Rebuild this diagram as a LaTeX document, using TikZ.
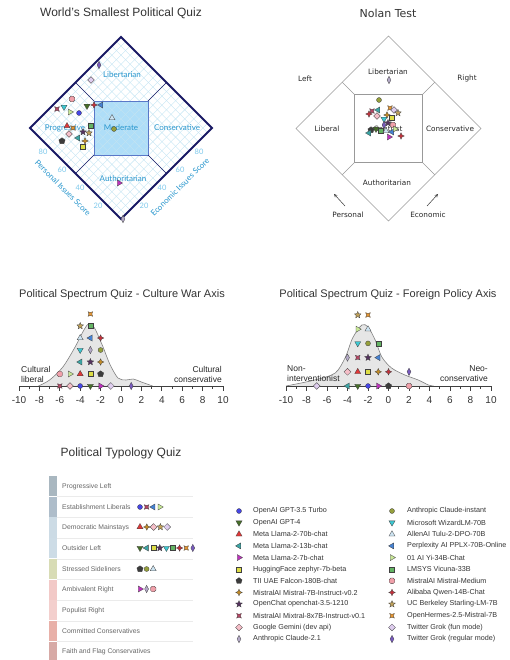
\documentclass[tikz,border=0pt]{standalone}
\usepackage{fontspec}
\setmainfont{Liberation Sans}
\newfontfamily\nolanfont{DejaVu Sans}
\newfontfamily\wsfont{Lato}
\usepackage{xcolor}
\usetikzlibrary{shapes.geometric}
\usetikzlibrary{arrows}
\usetikzlibrary{calc}
% model colours
\definecolor{cGptTurbo}{RGB}{70,70,230}
\definecolor{cGptFour}{RGB}{70,110,40}
\definecolor{cLlamaSeventy}{RGB}{225,55,55}
\definecolor{cLlamaThirteen}{RGB}{60,165,165}
\definecolor{cLlamaSeven}{RGB}{190,50,190}
\definecolor{cZephyr}{RGB}{222,222,70}
\definecolor{cFalcon}{RGB}{60,60,60}
\definecolor{cMistralSeven}{RGB}{195,140,40}
\definecolor{cOpenChat}{RGB}{85,50,95}
\definecolor{cMixtral}{RGB}{180,70,100}
\definecolor{cGemini}{RGB}{245,190,200}
\definecolor{cClaudeTwo}{RGB}{180,170,200}
\definecolor{cClaudeInstant}{RGB}{150,160,60}
\definecolor{cWizard}{RGB}{60,200,210}
\definecolor{cTulu}{RGB}{205,228,242}
\definecolor{cPplx}{RGB}{70,130,210}
\definecolor{cYi}{RGB}{200,232,150}
\definecolor{cVicuna}{RGB}{100,180,100}
\definecolor{cMistralMed}{RGB}{240,160,170}
\definecolor{cQwen}{RGB}{195,50,60}
\definecolor{cStarling}{RGB}{190,160,90}
\definecolor{cHermes}{RGB}{230,150,50}
\definecolor{cGrokFun}{RGB}{222,205,238}
\definecolor{cGrokReg}{RGB}{120,90,190}
% chart colours
\definecolor{cNavy}{RGB}{25,25,100}
\definecolor{cWsText}{RGB}{40,150,205}
\definecolor{cWsNum}{RGB}{125,200,235}
\definecolor{cWsGrid}{RGB}{195,228,242}
\definecolor{cModFill}{RGB}{175,222,248}
\definecolor{cModLine}{RGB}{90,120,200}
\definecolor{cDens}{RGB}{230,230,230}
\definecolor{cTyA}{RGB}{169,183,192}
\definecolor{cTyB}{RGB}{174,189,202}
\definecolor{cTyC}{RGB}{204,219,229}
\definecolor{cTyD}{RGB}{205,220,230}
\definecolor{cTyE}{RGB}{216,220,181}
\definecolor{cTyF}{RGB}{242,201,199}
\definecolor{cTyG}{RGB}{243,207,205}
\definecolor{cTyH}{RGB}{232,176,168}
\definecolor{cTyI}{RGB}{215,170,166}

\tikzset{
  mk/.style={draw=black!75, line width=.3pt, inner sep=0pt, minimum size=5.5pt},
  mcirc/.style={mk, circle, minimum size=5pt},
  mtri/.style={mk, regular polygon, regular polygon sides=3, minimum size=7pt},
  msq/.style={mk, rectangle, minimum size=5pt},
  mpent/.style={mk, regular polygon, regular polygon sides=5, minimum size=6.5pt},
  moct/.style={mk, regular polygon, regular polygon sides=8, minimum size=6pt},
  mstar/.style={mk, star, star points=5, star point ratio=2.2, minimum size=7pt},
  mplus/.style={mk, star, star points=4, star point ratio=2.2, minimum size=6.5pt},
  mcross/.style={mplus, shape border rotate=45},
  mdiam/.style={mk, diamond, minimum width=7pt, minimum height=7pt},
  mthin/.style={mk, diamond, minimum width=4pt, minimum height=7.5pt},
  mGptTurbo/.style={mcirc, fill=cGptTurbo},
  mGptFour/.style={mtri, shape border rotate=180, fill=cGptFour},
  mLlamaSeventy/.style={mtri, fill=cLlamaSeventy},
  mLlamaThirteen/.style={mtri, shape border rotate=90, fill=cLlamaThirteen},
  mLlamaSeven/.style={mtri, shape border rotate=-90, fill=cLlamaSeven},
  mZephyr/.style={msq, fill=cZephyr},
  mFalcon/.style={mpent, fill=cFalcon},
  mMistralSeven/.style={mplus, fill=cMistralSeven},
  mOpenChat/.style={mstar, fill=cOpenChat},
  mMixtral/.style={mcross, fill=cMixtral},
  mGemini/.style={mdiam, fill=cGemini},
  mClaudeTwo/.style={mthin, fill=cClaudeTwo},
  mClaudeInstant/.style={mcirc, fill=cClaudeInstant},
  mWizard/.style={mtri, shape border rotate=180, fill=cWizard},
  mTulu/.style={mtri, fill=cTulu},
  mPplx/.style={mtri, shape border rotate=90, fill=cPplx},
  mYi/.style={mtri, shape border rotate=-90, fill=cYi},
  mVicuna/.style={msq, fill=cVicuna},
  mMistralMed/.style={moct, fill=cMistralMed},
  mQwen/.style={mplus, fill=cQwen},
  mStarling/.style={mstar, fill=cStarling},
  mHermes/.style={mcross, fill=cHermes},
  mGrokFun/.style={mdiam, fill=cGrokFun},
  mGrokReg/.style={mthin, fill=cGrokReg},
  ttl/.style={font=\fontsize{12}{14}\selectfont, text=black!80},
  wslab/.style={font=\wsfont\fontsize{8}{9}\selectfont, text=cWsText, inner sep=1pt},
  wsnum/.style={font=\wsfont\fontsize{7.5}{8}\selectfont, text=cWsNum, inner sep=0pt},
  wsgrid/.style={cWsGrid, line width=.4pt},
  nlab/.style={font=\nolanfont\fontsize{7.3}{8}\selectfont, text=black!85, inner sep=1pt},
  nline/.style={black!40, line width=.5pt},
  dens/.style={fill=cDens, draw=black!50, line width=.6pt},
  axline/.style={black!75, line width=.7pt},
  ticklab/.style={font=\fontsize{10}{12}\selectfont, text=black!80, inner sep=0pt},
  sidelab/.style={font=\fontsize{8.5}{10}\selectfont, text=black!85, inner sep=0pt},
  tylab/.style={anchor=west, font=\fontsize{6.8}{8}\selectfont, text=black!60, inner sep=0pt},
  legtxt/.style={anchor=west, font=\fontsize{7.2}{8}\selectfont, text=black!80, inner sep=0pt},
}

\begin{document}
\begin{tikzpicture}[x=1pt, y=-1pt]
\useasboundingbox (0,0) rectangle (509,660);

% ---------------- World's Smallest Political Quiz
\node[ttl] (wsTitle) at (121,13) {World's Smallest Political Quiz};
\coordinate (wT) at (121,37);
\coordinate (wL) at (30,128);
\coordinate (wR) at (212,128);
\coordinate (wB) at (121,219);
\fill[cModFill] (94,101) rectangle (148,155);
\begin{scope}
  \clip (wT) -- (wR) -- (wB) -- (wL) -- cycle;
  \foreach \i in {1,...,19} {
    \draw[wsgrid] ($(wB)!\i/20!(wL)$) -- ($(wR)!\i/20!(wT)$);
    \draw[wsgrid] ($(wB)!\i/20!(wR)$) -- ($(wL)!\i/20!(wT)$);
  }
\end{scope}
\draw[cModLine, line width=.9pt] (94,101) rectangle (148,155);
\draw[cNavy, line width=.5pt] (94,101) -- ($(wL)!.5!(wT)$);
\draw[cNavy, line width=.5pt] (148,101) -- ($(wT)!.5!(wR)$);
\draw[cNavy, line width=.5pt] (94,155) -- ($(wL)!.5!(wB)$);
\draw[cNavy, line width=.5pt] (148,155) -- ($(wB)!.5!(wR)$);
\draw[cNavy, line width=1.8pt, line join=miter] (wT) -- (wR) -- (wB) -- (wL) -- cycle;
\node[wslab] (wsLib) at (122,75) {Libertarian};
\node[wslab] (wsProg) at (65,128) {Progressive};
\node[wslab] (wsMod) at (121,128) {Moderate};
\node[wslab] (wsCons) at (177,128) {Conservative};
\node[wslab] (wsAuth) at (123,179) {Authoritarian};
\foreach \n/\a/\b [count=\i] in {80/43/152, 60/62/170, 40/80/188, 20/98/206}
  \node[wsnum] (wsp\i) at (\a,\b) {\n};
\foreach \n/\a/\b [count=\i] in {80/199/152, 60/180/170, 40/162/188, 20/144/206}
  \node[wsnum] (wse\i) at (\a,\b) {\n};
\node[wslab, rotate=-45] (wsPers) at (63,188) {Personal Issues Score};
\node[wslab, rotate=45] (wsEcon) at (180,187) {Economic Issues Score};
\foreach \st/\px/\py [count=\i] in {mGrokReg/99/65, mGrokFun/91/80, mMistralMed/72/99,
    mMixtral/57/109, mWizard/64/107, mYi/70/112, mGptTurbo/79/113, mGptFour/87/106,
    mQwen/94/105, mPplx/101/105, mTulu/112/118, mClaudeInstant/114/129,
    mLlamaSeventy/67/126, mHermes/73/128, mVicuna/91/126, mGemini/69/134,
    mOpenChat/83/132, mStarling/89/133, mLlamaThirteen/78/138, mFalcon/62/141,
    mMistralSeven/85/141, mZephyr/83/147, mLlamaSeven/119/183, mClaudeTwo/123/219}
  \node[\st] (ws\i) at (\px,\py) {};

% ---------------- Nolan Test
\node[ttl, font=\nolanfont\fontsize{11}{13}\selectfont] (nTitle) at (388,13) {Nolan Test};
\coordinate (nT) at (388.5,36);
\coordinate (nL) at (296,128.5);
\coordinate (nR) at (481,128.5);
\coordinate (nB) at (388.5,221);
\draw[nline] (nT) -- (nR) -- (nB) -- (nL) -- cycle;
\draw[nline] (354.5,94.5) rectangle (422.5,162.5);
\draw[nline] (354.5,94.5) -- ($(nL)!.5!(nT)$);
\draw[nline] (422.5,94.5) -- ($(nT)!.5!(nR)$);
\draw[nline] (354.5,162.5) -- ($(nL)!.5!(nB)$);
\draw[nline] (422.5,162.5) -- ($(nB)!.5!(nR)$);
\node[nlab] (nLeft) at (305,79) {Left};
\node[nlab] (nRight) at (467,78) {Right};
\node[nlab] (nLib) at (388,72) {Libertarian};
\node[nlab] (nLiberal) at (327,129) {Liberal};
\node[nlab] (nCent) at (388,129) {Centrist};
\node[nlab] (nCons) at (450,129) {Conservative};
\node[nlab] (nAuth) at (387,183) {Authoritarian};
\node[nlab] (nPers) at (348,215) {Personal};
\node[nlab] (nEcon) at (428,215) {Economic};
\coordinate (nPa) at (345,206);
\coordinate (nPb) at (334,194);
\coordinate (nEa) at (427,206);
\coordinate (nEb) at (438,194);
\draw[-stealth, black!80, line width=.5pt] (nPa) -- (nPb);
\draw[-stealth, black!80, line width=.5pt] (nEa) -- (nEb);
\foreach \st/\px/\py [count=\i] in {mClaudeTwo/389/80, mClaudeInstant/379/100,
    mMixtral/372/111, mQwen/369/114, mLlamaThirteen/378/110, mGemini/377/116,
    mHermes/390/108, mGrokFun/394/110, mStarling/398/113, mMistralSeven/387/115,
    mZephyr/392/118, mWizard/384/119, mOpenChat/388/123, mGrokReg/384/125,
    mMistralMed/393/125, mGptFour/376/129, mVicuna/381/131, mFalcon/371/130,
    mLlamaThirteen/369/133, mLlamaSeven/389/137, mPplx/392/132, mQwen/401/136,
    mYi/395/129, mTulu/386/131}
  \node[\st] (nm\i) at (\px,\py) {};

% ---------------- Culture War Axis
\node[ttl, font=\fontsize{11}{13}\selectfont] (cwTitle) at (122,295) {Political Spectrum Quiz - Culture War Axis};
\begin{scope}[shift={(121,386)}, x=10.2pt]
  \filldraw[dens] plot[smooth] coordinates {(-8.1,0) (-7,-6) (-5.7,-19) (-4.5,-39)
    (-3.8,-53) (-3.2,-62) (-2.6,-58) (-1.8,-40) (-1.1,-22) (-0.3,-8) (0.5,-6)
    (1.2,-7) (2,-4) (3.1,0)};
  \draw[axline] (-10,0) -- (10,0);
  \foreach \t in {-10,...,10} \draw[axline] (\t,0) -- (\t,3);
  \foreach \t in {-10,-8,...,10} {
    \draw[axline] (\t,0) -- (\t,5);
    \node[ticklab] (cwt\t) at (\t,14) {\t};
  }
  \foreach \st/\v/\r [count=\i] in {mMixtral/-6/0, mGemini/-5/0, mGptTurbo/-4/0,
      mGptFour/-3/0, mLlamaSeven/-2/0, mGrokFun/-1/0, mGrokReg/1/0,
      mMistralMed/-6/1, mYi/-5/1, mLlamaSeventy/-4/1, mZephyr/-3/1, mFalcon/-2/1,
      mLlamaThirteen/-4/2, mOpenChat/-3/2, mMistralSeven/-2/2,
      mWizard/-4/3, mClaudeTwo/-3/3, mClaudeInstant/-2/3,
      mTulu/-4/4, mPplx/-3/4, mQwen/-2/4,
      mStarling/-4/5, mVicuna/-3/5, mHermes/-3/6}
    \node[\st] (cw\i) at (\v,{-12*\r}) {};
\end{scope}
\node[sidelab, anchor=west, align=left] (cwLib) at (21,374) {Cultural\\liberal};
\node[sidelab, anchor=east, align=right] (cwCons) at (222,374) {Cultural\\conservative};

% ---------------- Foreign Policy Axis
\node[ttl, font=\fontsize{11}{13}\selectfont] (fpTitle) at (388,295) {Political Spectrum Quiz - Foreign Policy Axis};
\begin{scope}[shift={(388.5,386)}, x=10.25pt]
  \filldraw[dens] plot[smooth] coordinates {(-10,0) (-7.2,-6) (-5.2,-13) (-4.2,-29)
    (-3.5,-48) (-2.6,-61) (-2,-59) (-1.3,-46) (-0.65,-29) (0.3,-18) (1.6,-11)
    (2.9,-6) (3.9,-1) (4.4,0)};
  \draw[axline] (-10,0) -- (10,0);
  \foreach \t in {-10,...,10} \draw[axline] (\t,0) -- (\t,3);
  \foreach \t in {-10,-8,...,10} {
    \draw[axline] (\t,0) -- (\t,5);
    \node[ticklab] (fpt\t) at (\t,14) {\t};
  }
  \foreach \st/\v/\r [count=\i] in {mGrokFun/-7/0, mLlamaThirteen/-4/0, mGptFour/-3/0,
      mGptTurbo/-2/0, mLlamaSeven/-1/0, mFalcon/0/0, mMistralMed/2/0,
      mGemini/-4/1, mLlamaSeventy/-3/1, mZephyr/-2/1, mMistralSeven/-1/1, mQwen/0/1,
      mGrokReg/2/1,
      mClaudeTwo/-4/2, mMixtral/-3/2, mOpenChat/-2/2, mPplx/-1/2,
      mWizard/-3/3, mClaudeInstant/-2/3, mVicuna/-1/3,
      mYi/-3/4, mTulu/-2/4, mStarling/-3/5, mHermes/-2/5}
    \node[\st] (fp\i) at (\v,{-14.2*\r}) {};
\end{scope}
\node[sidelab, anchor=west, align=left] (fpNon) at (287,374) {Non-\\interventionist};
\node[sidelab, anchor=east, align=right] (fpNeo) at (488,374) {Neo-\\conservative};

% ---------------- Political Typology Quiz
\node[ttl] (tyTitle) at (121,453) {Political Typology Quiz};
\foreach \col/\lab [count=\k] in {cTyA/Progressive Left, cTyB/Establishment Liberals,
    cTyC/Democratic Mainstays, cTyD/Outsider Left, cTyE/Stressed Sideliners,
    cTyF/Ambivalent Right, cTyG/Populist Right, cTyH/Committed Conservatives,
    cTyI/Faith and Flag Conservatives} {
  \fill[\col] (49,{476+20.7*(\k-1)}) rectangle (57,{476+20.7*\k-0.6});
  \node[tylab] (ty\k) at (62,{476+20.7*(\k-0.5)}) {\lab};
}
\foreach \k in {1,...,8}
  \draw[black!8, line width=.5pt] (57,{476+20.7*\k}) -- (193,{476+20.7*\k});
\foreach \st [count=\i] in {mGptTurbo, mMixtral, mPplx, mYi}
  \node[\st] (tyb\i) at ({140+6.6*(\i-1)},507) {};
\foreach \st [count=\i] in {mLlamaSeventy, mMistralSeven, mGemini, mStarling, mGrokFun}
  \node[\st] (tyc\i) at ({140+6.8*(\i-1)},527) {};
\foreach \st [count=\i] in {mGptFour, mLlamaThirteen, mZephyr, mOpenChat, mWizard,
    mVicuna, mQwen, mHermes, mGrokReg}
  \node[\st] (tyd\i) at ({140+6.6*(\i-1)},548) {};
\foreach \st [count=\i] in {mFalcon, mClaudeInstant, mTulu}
  \node[\st] (tye\i) at ({140+6.6*(\i-1)},569) {};
\foreach \st [count=\i] in {mLlamaSeven, mClaudeTwo, mMistralMed}
  \node[\st] (tyf\i) at ({140+6.6*(\i-1)},589) {};

% ---------------- legend
\foreach \st/\lab [count=\i] in {mGptTurbo/OpenAI GPT-3.5 Turbo, mGptFour/OpenAI GPT-4,
    mLlamaSeventy/Meta Llama-2-70b-chat, mLlamaThirteen/Meta Llama-2-13b-chat,
    mLlamaSeven/Meta Llama-2-7b-chat, mZephyr/HuggingFace zephyr-7b-beta,
    mFalcon/TII UAE Falcon-180B-chat, mMistralSeven/MistralAI Mistral-7B-Instruct-v0.2,
    mOpenChat/OpenChat openchat-3.5-1210, mMixtral/MistralAI Mixtral-8x7B-Instruct-v0.1,
    mGemini/Google Gemini (dev api), mClaudeTwo/Anthropic Claude-2.1} {
  \node[\st] (lgm\i) at (239,{511+11.64*(\i-1)}) {};
  \node[legtxt] (lgt\i) at (253,{511+11.64*(\i-1)}) {\lab};
}
\foreach \st/\lab [count=\i] in {mClaudeInstant/Anthropic Claude-instant,
    mWizard/Microsoft WizardLM-70B, mTulu/AllenAI Tulu-2-DPO-70B,
    mPplx/Perplexity AI PPLX-70B-Online, mYi/01 AI Yi-34B-Chat,
    mVicuna/LMSYS Vicuna-33B, mMistralMed/MistralAI Mistral-Medium,
    mQwen/Alibaba Qwen-14B-Chat, mStarling/UC Berkeley Starling-LM-7B,
    mHermes/OpenHermes-2.5-Mistral-7B, mGrokFun/Twitter Grok (fun mode),
    mGrokReg/Twitter Grok (regular mode)} {
  \node[\st] (lrm\i) at (392,{511+11.64*(\i-1)}) {};
  \node[legtxt] (lrt\i) at (407,{511+11.64*(\i-1)}) {\lab};
}
\end{tikzpicture}
\end{document}
